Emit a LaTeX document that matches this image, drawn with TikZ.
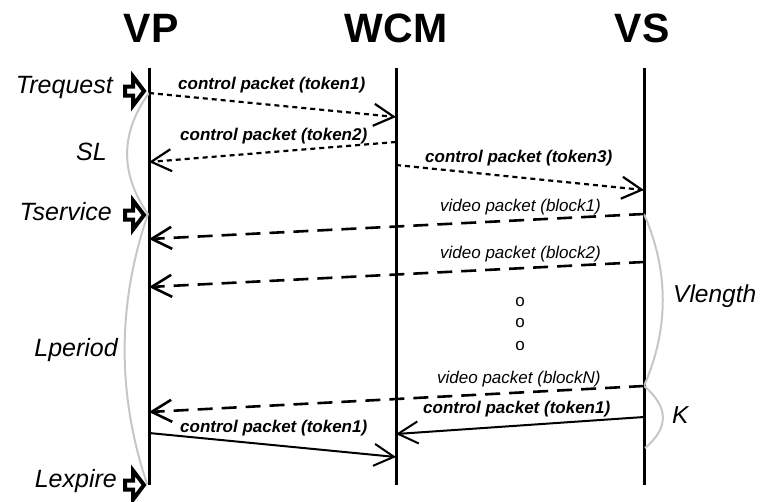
\documentclass[tikz,border=0pt]{standalone}
\usepackage{fontspec}
\setmainfont{Liberation Sans}
\usetikzlibrary{arrows.meta}
\begin{document}
\begin{tikzpicture}[x=1pt,y=-1pt,
  lifeline/.style={line width=3pt},
  ttl/.style={font=\fontsize{41}{48}\selectfont\bfseries, anchor=base, inner sep=0pt},
  ctrllbl/.style={font=\fontsize{17}{20}\selectfont\bfseries\itshape, anchor=base west, inner sep=0pt},
  vidlbl/.style={font=\fontsize{17}{20}\selectfont\itshape, anchor=base west, inner sep=0pt},
  sidelbl/.style={font=\fontsize{25}{30}\selectfont\itshape, anchor=base east, inner sep=0pt},
  rightlbl/.style={font=\fontsize{24.5}{30}\selectfont\itshape, anchor=base west, inner sep=0pt},
  dotlbl/.style={font=\fontsize{17}{20}\selectfont, inner sep=0pt},
  dotmsg/.style={line width=2.2pt, dash pattern=on 5pt off 4pt, -{Straight Barb[length=20pt,width=22pt]}},
  vidmsg/.style={line width=2.6pt, dash pattern=on 15pt off 9pt, -{Straight Barb[length=20pt,width=22pt]}},
  solmsg/.style={line width=2pt, -{Straight Barb[length=20pt,width=22pt]}},
  span/.style={line width=2pt, draw=black!22},
  barrow/.pic={\draw[line width=4pt, fill=white, line join=miter, miter limit=10]
     (-22,-4.5) -- (-14,-4.5) -- (-14,-14.5) -- (-3,0) -- (-14,14.5) -- (-14,4.5) -- (-22,4.5) -- cycle;}
]
\useasboundingbox (0,0) rectangle (760,501);
\fill[white] (0,0) rectangle (760,501);

% titles
\node[ttl] (tVP) at (151,42) {VP};
\node[ttl] (tWCM) at (396,42) {WCM};
\node[ttl] (tVS) at (642,42) {VS};

% lifelines
\coordinate (vpT) at (149,68);  \coordinate (vpB) at (149,485);
\coordinate (wcT) at (396,68);  \coordinate (wcB) at (396,485);
\coordinate (vsT) at (644,68);  \coordinate (vsB) at (644,485);
\draw[lifeline] (vpT) -- (vpB);
\draw[lifeline] (wcT) -- (wcB);
\draw[lifeline] (vsT) -- (vsB);

% message end points
\coordinate (m1s) at (149,93);  \coordinate (m1e) at (396,117);
\coordinate (m2s) at (396,142); \coordinate (m2e) at (149,162);
\coordinate (m3s) at (396,165); \coordinate (m3e) at (644,190);
\coordinate (m4s) at (644,214); \coordinate (m4e) at (149,239);
\coordinate (m5s) at (644,262); \coordinate (m5e) at (149,287);
\coordinate (m6s) at (644,386); \coordinate (m6e) at (149,412);
\coordinate (m7s) at (644,417); \coordinate (m7e) at (396,434);
\coordinate (m8s) at (149,433); \coordinate (m8e) at (396,457);
\coordinate (vpS) at (148,214); \coordinate (vpE) at (147,484);
\coordinate (vsK) at (645,448);

% span curves
\draw[span] (m1s) .. controls (120,133) and (120,174) .. (vpS);
\draw[span] (vpS) .. controls (117,304) and (117,394) .. (vpE);
\draw[span] (m4s) .. controls (669,271) and (669,329) .. (m6s);
\draw[span] (m6s) .. controls (669,407) and (669,428) .. (vsK);

% messages
\draw[dotmsg] (m1s) -- (m1e);
\draw[dotmsg] (m2s) -- (m2e);
\draw[dotmsg] (m3s) -- (m3e);
\draw[vidmsg] (m4s) -- (m4e);
\draw[vidmsg] (m5s) -- (m5e);
\draw[vidmsg] (m6s) -- (m6e);
\draw[solmsg] (m7s) -- (m7e);
\draw[solmsg] (m8s) -- (m8e);

% message labels
\node[ctrllbl] (l1) at (178,89) {control packet (token1)};
\node[ctrllbl] (l2) at (180,140) {control packet (token2)};
\node[ctrllbl] (l3) at (425,162) {control packet (token3)};
\node[vidlbl] (l4) at (440,211) {video packet (block1)};
\node[vidlbl] (l5) at (440,258) {video packet (block2)};
\node[vidlbl] (l6) at (437,383) {video packet (blockN)};
\node[ctrllbl] (l7) at (423,413) {control packet (token1)};
\node[ctrllbl] (l8) at (180,432) {control packet (token1)};

% ellipsis
\node[dotlbl] (d1) at (520,302) {o};
\node[dotlbl] (d2) at (520,323) {o};
\node[dotlbl] (d3) at (520,346) {o};

% side labels
\node[sidelbl] (sTreq) at (113,93) {Trequest};
\node[sidelbl] (sSL) at (107,160) {SL};
\node[sidelbl] (sTser) at (112,220) {Tservice};
\node[sidelbl] (sLper) at (118,356) {Lperiod};
\node[sidelbl] (sLexp) at (117,487) {Lexpire};
\node[rightlbl] (sVlen) at (673,302) {Vlength};
\node[rightlbl] (sK) at (672,423) {K};

% block arrows
\pic at (147,91) {barrow};
\pic at (147,215) {barrow};
\pic at (147,485) {barrow};
\end{tikzpicture}
\end{document}
